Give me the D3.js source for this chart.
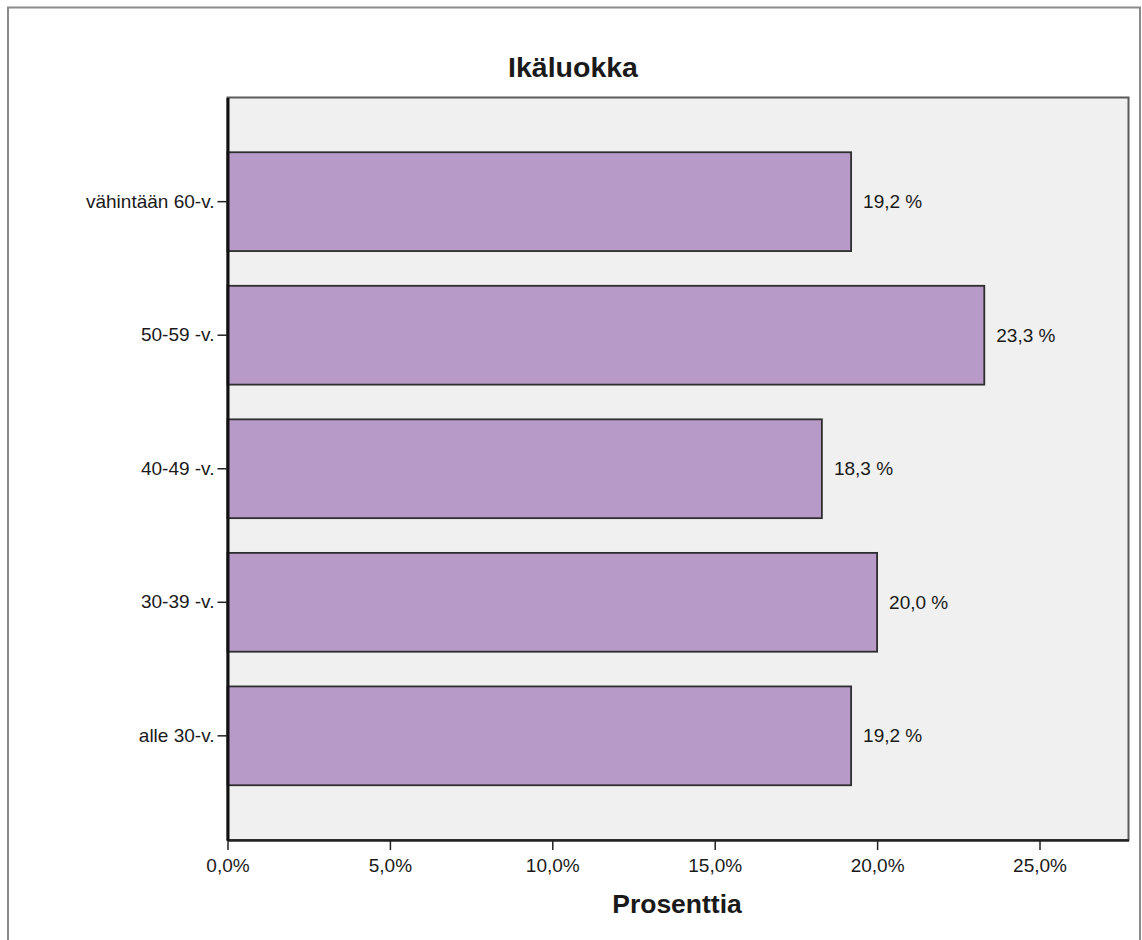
<!DOCTYPE html>
<html><head><meta charset="utf-8">
<script src="https://cdn.jsdelivr.net/npm/d3@7"></script>
<style>body{margin:0;background:#fff}svg{display:block}text{font-family:"Liberation Sans",Arial,sans-serif;fill:#1a1a1a}</style>
</head><body>
<script>
const categories = ["vähintään 60-v.", "50-59 -v.", "40-49 -v.", "30-39 -v.", "alle 30-v."];
const values = [19.2, 23.3, 18.3, 20.0, 19.2];
const valueLabels = ["19,2 %", "23,3 %", "18,3 %", "20,0 %", "19,2 %"];
const tickValues = [0, 5, 10, 15, 20, 25];
const tickLabels = ["0,0%", "5,0%", "10,0%", "15,0%", "20,0%", "25,0%"];
const title = "Ikäluokka";
const xTitle = "Prosenttia";

const W = 1142, H = 940;
const svg = d3.select("body").append("svg").attr("width", W).attr("height", H);

// outer frame
svg.append("path").attr("d", `M8,${H+5}V7.5H1140V${H+5}`).attr("fill", "none").attr("stroke", "#8a8a8a").attr("stroke-width", 2);

const L = 227.5, R = 1128.5, T = 97.5, B = 840;
const x = d3.scaleLinear().domain([0, 27.74]).range([L, R]);
const y = d3.scaleBand().domain(categories).range([T, B]).paddingInner(0.26).paddingOuter(0.41);

svg.append("rect").attr("x", L).attr("y", T).attr("width", R - L).attr("height", B - T)
  .attr("fill", "#f0f0f0").attr("stroke", "#5a5a5a").attr("stroke-width", 2);

svg.append("g").selectAll("rect").data(categories).join("rect")
  .attr("x", x(0)).attr("y", d => y(d))
  .attr("width", (d, i) => x(values[i]) - x(0)).attr("height", y.bandwidth())
  .attr("fill", "#b89ac8").attr("stroke", "#2e2e2e").attr("stroke-width", 1.8);

svg.append("g").selectAll("text").data(categories).join("text")
  .attr("x", (d, i) => x(values[i]) + 12).attr("y", d => y(d) + y.bandwidth() / 2)
  .attr("dy", "0.35em").attr("font-size", 19).text((d, i) => valueLabels[i]);

// x axis
const xAxis = d3.axisBottom(x).tickValues(tickValues).tickFormat((d, i) => tickLabels[i]).tickSize(10).tickSizeOuter(0);
const gx = svg.append("g").attr("transform", `translate(0,${B})`).call(xAxis);
gx.select(".domain").attr("stroke", "#222").attr("stroke-width", 2.5);
gx.selectAll(".tick line").attr("stroke", "#222").attr("stroke-width", 1.5);
gx.selectAll(".tick text").attr("font-size", 19).attr("fill", "#1a1a1a").attr("y", 32).attr("dy", 0);

// y axis
const yAxis = d3.axisLeft(y).tickSize(10).tickSizeOuter(0).tickPadding(3);
const gy = svg.append("g").attr("transform", `translate(${L},0)`).call(yAxis);
gy.select(".domain").attr("stroke", "#111").attr("stroke-width", 3);
gy.selectAll(".tick line").attr("stroke", "#222").attr("stroke-width", 1.5);
gy.selectAll(".tick text").attr("font-size", 19).attr("fill", "#1a1a1a");

svg.append("text").attr("x", 573).attr("y", 77).attr("text-anchor", "middle")
  .attr("font-size", 28.5).attr("font-weight", "bold").text(title);
svg.append("text").attr("x", 677).attr("y", 913).attr("text-anchor", "middle")
  .attr("font-size", 26.5).attr("font-weight", "bold").text(xTitle);
</script>
</body></html>
